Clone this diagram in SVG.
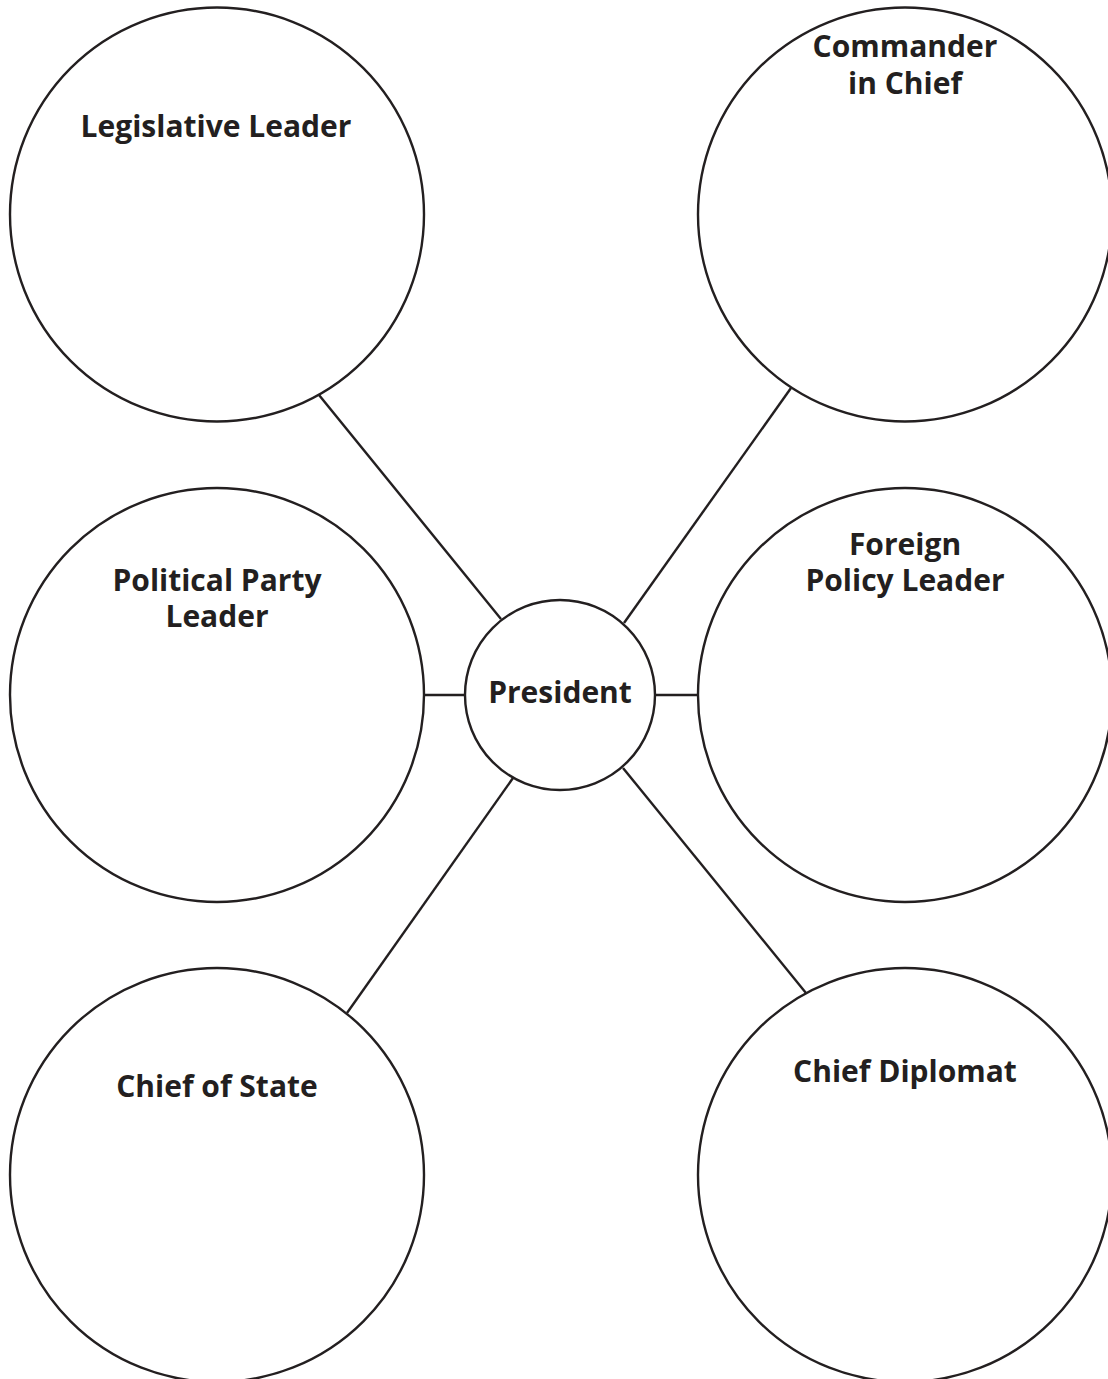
<svg xmlns="http://www.w3.org/2000/svg" width="1108" height="1379" viewBox="0 0 1108 1379">
<style>
.node circle{fill:none;stroke:#231f20;stroke-width:2.4}
.conn line{stroke:#231f20;stroke-width:2.4}
text{font-family:"Open Sans","Noto Sans","Liberation Sans",sans-serif;font-weight:bold;font-size:30px;fill:#231f20;text-anchor:middle}
</style>
<rect width="1108" height="1379" fill="#fff"/>
<g id="connectors" class="conn">
<line x1="319" y1="395" x2="501" y2="619"/>
<line x1="791" y1="388" x2="624" y2="623"/>
<line x1="513" y1="778" x2="347" y2="1013"/>
<line x1="623" y1="768" x2="806" y2="993"/>
<line x1="424" y1="695" x2="465" y2="695"/>
<line x1="655" y1="695" x2="698" y2="695"/>
</g>
<g id="legislative-leader" class="node">
<circle cx="217" cy="214.5" r="207"/>
<text x="216" y="137">Legislative Leader</text>
</g>
<g id="commander-in-chief" class="node">
<circle cx="905" cy="214.5" r="207"/>
<text x="905" y="57">Commander</text>
<text x="905" y="94">in Chief</text>
</g>
<g id="political-party-leader" class="node">
<circle cx="217" cy="695" r="207"/>
<text x="217" y="591">Political Party</text>
<text x="217" y="627">Leader</text>
</g>
<g id="foreign-policy-leader" class="node">
<circle cx="905" cy="695" r="207"/>
<text x="905" y="555">Foreign</text>
<text x="905" y="591">Policy Leader</text>
</g>
<g id="president" class="node">
<circle cx="560" cy="695" r="95"/>
<text x="560" y="703">President</text>
</g>
<g id="chief-of-state" class="node">
<circle cx="217" cy="1175" r="207"/>
<text x="217" y="1097">Chief of State</text>
</g>
<g id="chief-diplomat" class="node">
<circle cx="905" cy="1175" r="207"/>
<text x="905" y="1082">Chief Diplomat</text>
</g>
</svg>
